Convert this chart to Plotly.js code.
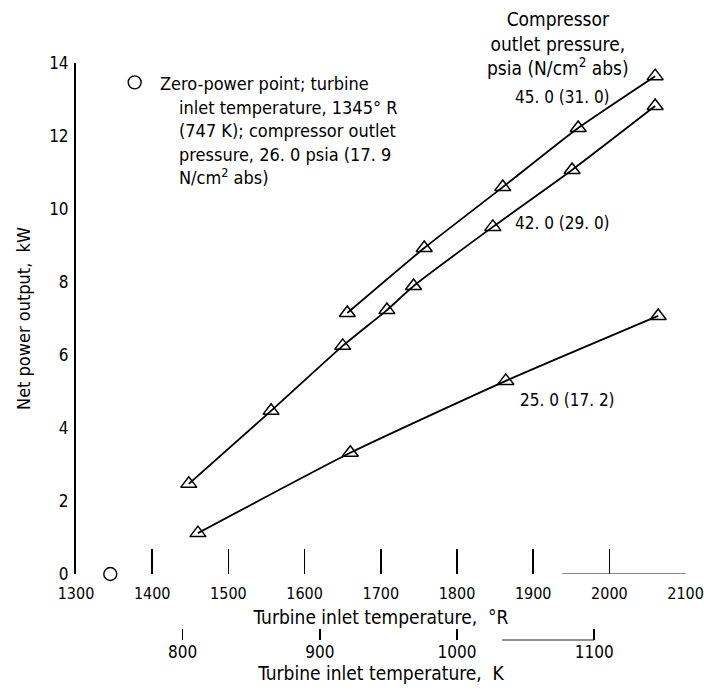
<!DOCTYPE html>
<html>
<head>
<meta charset="utf-8">
<script src="https://cdn.plot.ly/plotly-3.0.1.min.js"></script>
<style>
  html, body { margin: 0; padding: 0; background: #fff; }
  #chart { width: 704px; height: 690px; }
</style>
</head>
<body>
<div id="chart"></div>
<script>
// Turbine inlet temperature (deg R) and net power output (kW) for each compressor outlet pressure
const temp45 = [1656, 1757, 1860, 1959, 2060];
const power45 = [7.15, 8.93, 10.6, 12.22, 13.64];
const temp42 = [1448, 1556, 1650, 1708, 1743, 1847, 1951, 2060];
const power42 = [2.47, 4.47, 6.25, 7.23, 7.89, 9.51, 11.07, 12.82];
const temp25 = [1460, 1660, 1864, 2064];
const power25 = [1.12, 3.32, 5.29, 7.07];
const zeroTemp = [1345];
const zeroPower = [0];

const seriesLabels = ["45. 0 (31. 0)", "42. 0 (29. 0)", "25. 0 (17. 2)"];
const rTicks = [1300, 1400, 1500, 1600, 1700, 1800, 1900, 2000, 2100];
const kTicks = [800, 900, 1000, 1100];
const powerTicks = [0, 2, 4, 6, 8, 10, 12, 14];
const powerTickMarks = [2, 4, 6, 8, 10, 12, 14];

const FONT = "'Liberation Sans Narrow', 'DejaVu Sans Condensed', 'Arial Narrow', sans-serif";
const INK = "#000";

function lineTrace(x, y, name) {
  return {
    x: x, y: y, name: name, type: "scatter", mode: "lines+markers",
    line: { color: INK, width: 1.8, shape: "spline", smoothing: 0.5 },
    marker: { symbol: "triangle-up-open", size: 14, color: INK, line: { color: INK, width: 1.5 } },
    cliponaxis: false, showlegend: false, hoverinfo: "x+y+name"
  };
}

const data = [
  lineTrace(temp45, power45, seriesLabels[0]),
  lineTrace(temp42, power42, seriesLabels[1]),
  lineTrace(temp25, power25, seriesLabels[2]),
  {
    x: zeroTemp, y: zeroPower, name: "Zero-power point", type: "scatter", mode: "markers",
    marker: { symbol: "circle-open", size: 13, color: INK, line: { color: INK, width: 1.4 } },
    cliponaxis: false, showlegend: false
  }
];

const R_TO_K = 1 / 1.8;
const R_RANGE = [1300, 2100.5];
const Y_DOMAIN = [0.1144, 1];

const layout = {
  width: 704, height: 690,
  margin: { l: 76, r: 18, t: 63, b: 50 },
  paper_bgcolor: "#fff", plot_bgcolor: "#fff",
  font: { family: FONT, size: 19, color: INK },
  showlegend: false,
  xaxis: {
    range: R_RANGE, anchor: "y",
    tickvals: rTicks, ticktext: rTicks.map(String),
    tickfont: { size: 16 }, ticklabeloverflow: "allow",
    ticks: "inside", ticklen: 25, tickwidth: 1.6, tickcolor: INK,
    ticklabelstandoff: 8,
    showline: false, showgrid: false, zeroline: false,
    title: { text: "Turbine inlet temperature,  °R", standoff: 8, font: { size: 19 } },
    automargin: false
  },
  xaxis2: {
    range: [R_RANGE[0] * R_TO_K, R_RANGE[1] * R_TO_K], overlaying: "x", anchor: "free", position: 0, side: "bottom",
    tickvals: kTicks, ticktext: kTicks.map(String),
    tickfont: { size: 17 }, ticklabeloverflow: "allow",
    ticks: "inside", ticklen: 11, tickwidth: 1.6, tickcolor: INK,
    ticklabelstandoff: 0,
    showline: false, showgrid: false, zeroline: false,
    title: { text: "Turbine inlet temperature,  K", standoff: 0, font: { size: 19 } },
    automargin: false
  },
  yaxis: {
    range: [0, 14], domain: Y_DOMAIN, anchor: "x",
    tickvals: powerTicks, ticktext: powerTicks.map(String),
    tickfont: { size: 17 },
    ticks: "", ticklabelstandoff: 2,
    showline: true, linewidth: 2, linecolor: INK,
    showgrid: false, zeroline: false,
    title: { text: "Net power output,  kW", standoff: 14, font: { size: 18 } },
    automargin: false
  },
  yaxis2: {
    range: [0, 14], domain: Y_DOMAIN, overlaying: "y", anchor: "x", side: "left",
    tickvals: powerTickMarks, showticklabels: false,
    ticks: "inside", ticklen: 24, tickwidth: 1.6, tickcolor: INK,
    showline: false, showgrid: false, zeroline: false
  },
  shapes: [
    // legend symbol for the zero-power point
    { type: "circle", xref: "x", yref: "y", xsizemode: "pixel", ysizemode: "pixel",
      xanchor: 1377, yanchor: 13.47, x0: -6.5, x1: 6.5, y0: -6.5, y1: 6.5,
      line: { color: INK, width: 1.4 } },
    // stray rule segments along the scales
    { type: "line", xref: "x", yref: "y", x0: 1938, x1: 2100, y0: 0, y1: 0,
      line: { color: "#222", width: 1 } },
    { type: "line", xref: "x2", yref: "paper", x0: 1033, x1: 1100, y0: 0, y1: 0,
      line: { color: "#222", width: 1 } }
  ],
  annotations: [
    { xref: "x", yref: "y", x: 1407, y: 13.44, xanchor: "left", yanchor: "middle",
      text: "Zero-power point; turbine", showarrow: false, align: "left", font: { size: 18 } },
    { xref: "x", yref: "y", x: 1432, y: 13.12, xanchor: "left", yanchor: "top",
      text: "inlet temperature, 1345° R<br>(747 K); compressor outlet<br>pressure, 26. 0 psia (17. 9<br>N/cm<sup>2</sup> abs)",
      showarrow: false, align: "left", font: { size: 18 } },
    { xref: "x", yref: "paper", x: 1932, y: 1.033, xanchor: "center", yanchor: "middle",
      text: "Compressor<br>outlet pressure,<br>psia (N/cm<sup>2</sup> abs)", showarrow: false, align: "center" },
    { xref: "x", yref: "y", x: 1939, y: 13.06, xanchor: "center", yanchor: "middle",
      text: seriesLabels[0], showarrow: false, font: { size: 17 } },
    { xref: "x", yref: "y", x: 1939, y: 9.61, xanchor: "center", yanchor: "middle",
      text: seriesLabels[1], showarrow: false, font: { size: 17 } },
    { xref: "x", yref: "y", x: 1880, y: 4.76, xanchor: "left", yanchor: "middle",
      text: seriesLabels[2], showarrow: false, font: { size: 17 } }
  ]
};

Plotly.newPlot("chart", data, layout, { displayModeBar: false, staticPlot: true });
</script>
</body>
</html>
